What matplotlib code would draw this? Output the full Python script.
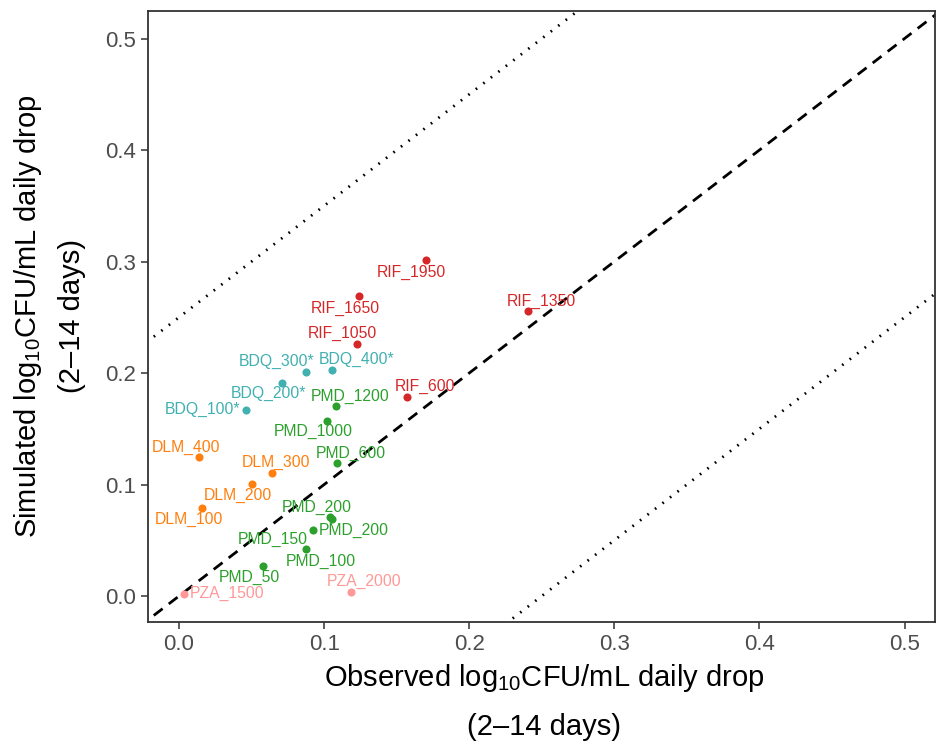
import numpy as np
import matplotlib
matplotlib.use('Agg')
import matplotlib.pyplot as plt

plt.rcParams['font.family'] = ['Liberation Sans', 'DejaVu Sans']
plt.rcParams['mathtext.fontset'] = 'custom'
plt.rcParams['mathtext.rm'] = 'Liberation Sans'
plt.rcParams['mathtext.it'] = 'Liberation Sans:italic'

# data
labels = ['RIF_1950', 'RIF_1650', 'RIF_1050', 'RIF_1350', 'RIF_600',
          'BDQ_300*', 'BDQ_400*', 'BDQ_200*', 'BDQ_100*',
          'PMD_1200', 'PMD_1000', 'PMD_600', 'PMD_200', 'PMD_150', 'PMD_200', 'PMD_100', 'PMD_50',
          'DLM_400', 'DLM_300', 'DLM_200', 'DLM_100',
          'PZA_2000', 'PZA_1500']
drug = ['RIF'] * 5 + ['BDQ'] * 4 + ['PMD'] * 8 + ['DLM'] * 4 + ['PZA'] * 2
observed = [0.170, 0.124, 0.1225, 0.2405, 0.157,
            0.0874, 0.1057, 0.0708, 0.046,
            0.1085, 0.102, 0.1088, 0.1037, 0.1057, 0.0924, 0.0878, 0.0582,
            0.014, 0.0641, 0.0501, 0.0156,
            0.1184, 0.0032]
simulated = [0.301, 0.269, 0.2263, 0.2556, 0.1788,
             0.2009, 0.203, 0.1913, 0.1665,
             0.1701, 0.157, 0.119, 0.0711, 0.0688, 0.0592, 0.0422, 0.0266,
             0.1244, 0.1106, 0.1002, 0.0786,
             0.0039, 0.0015]

# label offsets from each point (pixels)
offsets = [(-14, -12), (-14, -12), (-14, 10), (13, 10), (18, 10),
           (-29, 11), (24, 10), (-13, -11), (-43, 1),
           (14, 10), (-14, -10), (14, 10), (-13, 9), (-60, -20), (41, 0), (14, -12), (-14, -11),
           (-13, 10), (4, 10), (-14, -11), (-13, -11),
           (13, 10), (43, 1)]

colors = {'RIF': '#D62728', 'BDQ': '#40B0B0', 'PMD': '#2CA02C',
          'DLM': '#FF7F0E', 'PZA': '#FF9896'}

fig = plt.figure(figsize=(9.36, 7.44), dpi=100)
ax = fig.add_axes([148 / 936, 122 / 744, 787 / 936, 611 / 744])

xs = np.array([-0.1, 0.7])
ax.plot(xs, xs, color='black', lw=2.0, dashes=(4, 2.8))
ax.plot(xs, xs + 0.25, color='black', lw=2.0, dashes=(0.6, 2.8))
ax.plot(xs, xs - 0.25, color='black', lw=2.0, dashes=(0.6, 2.8))

for lab, d, xo, yo, off in zip(labels, drug, observed, simulated, offsets):
    ax.scatter(xo, yo, s=34, color=colors[d], zorder=3, linewidths=0)
    ax.annotate(lab, (xo, yo), xytext=off, textcoords='offset pixels',
                ha='center', va='center', fontsize=11.3, color=colors[d])

ax.set_xlim(-0.0214, 0.521)
ax.set_ylim(-0.0233, 0.5247)
ticks = [0.0, 0.1, 0.2, 0.3, 0.4, 0.5]
ax.set_xticks(ticks)
ax.set_yticks(ticks)
ax.set_xticklabels(['0.0', '0.1', '0.2', '0.3', '0.4', '0.5'])
ax.set_yticklabels(['0.0', '0.1', '0.2', '0.3', '0.4', '0.5'])
ax.tick_params(labelsize=16, labelcolor='#4D4D4D', color='#333333', length=5, width=1.1)

for s in ax.spines.values():
    s.set_color('#333333')
    s.set_linewidth(1.3)

# axis titles, two lines each
fig.text(544 / 936, 1 - 678 / 744, 'Observed log$_{10}$CFU/mL daily drop',
         fontsize=21, ha='center', va='center')
fig.text(544 / 936, 1 - 727 / 744, '(2\u201314 days)', fontsize=21, ha='center', va='center')
fig.text(28 / 936, 1 - 316 / 744, 'Simulated log$_{10}$CFU/mL daily drop',
         fontsize=21, ha='center', va='center', rotation=90)
fig.text(72 / 936, 1 - 316 / 744, '(2\u201314 days)', fontsize=21, ha='center', va='center', rotation=90)

plt.savefig('out.png', dpi=100)
